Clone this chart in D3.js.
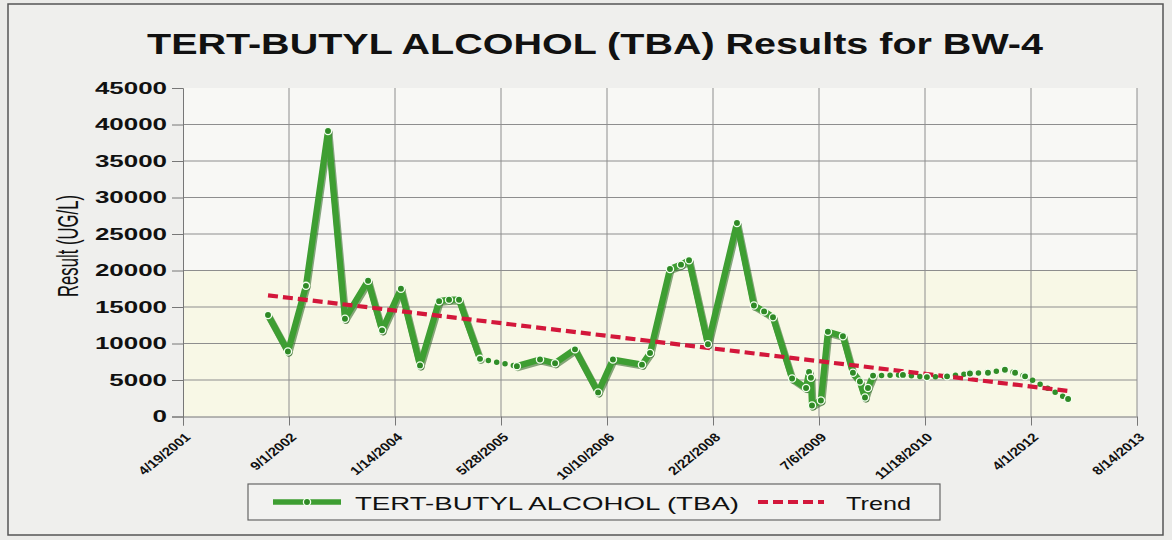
<!DOCTYPE html>
<html>
<head>
<meta charset="utf-8">
<script src="https://cdn.jsdelivr.net/npm/d3@7"></script>
<style>
  body { margin: 0; background: #ebebe9; }
  svg { display: block; font-family: "Liberation Sans", Arial, sans-serif; }
</style>
</head>
<body>
<div id="chart"></div>
<script>
// sample dates and TBA results (ug/L)
const sampleDates = [
  '2002-05-25', '2002-08-27', '2002-11-20', '2003-03-04', '2003-05-23', '2003-09-09',
  '2003-11-14', '2004-02-11', '2004-05-11', '2004-08-09', '2004-09-25', '2004-11-11',
  '2005-02-18', '2005-08-11', '2005-11-28', '2006-02-07', '2006-05-12', '2006-08-29',
  '2006-11-07', '2007-03-24', '2007-05-01', '2007-08-03', '2007-09-24', '2007-11-01',
  '2008-01-29', '2008-06-14', '2008-09-02', '2008-10-20', '2008-12-01', '2009-03-01',
  '2009-05-06', '2009-05-20', '2009-05-29', '2009-06-03', '2009-07-15', '2009-08-17',
  '2009-10-27', '2009-12-13', '2010-01-15', '2010-02-08', '2010-02-22', '2010-03-18',
  '2010-08-06', '2010-11-27', '2011-03-02', '2011-06-18', '2011-09-11', '2011-11-30',
  '2012-01-17', '2012-03-04', '2012-09-23',
];
const tbaValues = [
  13900, 8900, 17900, 39100, 13400, 18600,
  11800, 17500, 7000, 15800, 16000, 16000,
  7900, 6900, 7800, 7300, 9200, 3300,
  7800, 7100, 8700, 20200, 20800, 21400,
  9900, 26500, 15200, 14400, 13600, 5200,
  3900, 6100, 5300, 1500, 2200, 11600,
  11000, 6000, 4800, 2600, 3900, 5600,
  5700, 5400, 5500, 5900, 6000, 6400,
  6000, 5500, 2400,
];
// linear trend, end points as drawn
const trendDates = ['2002-05-25', '2012-09-23'];
const trendValues = [16600, 3500];

const xTickLabels = ['4/19/2001', '9/1/2002', '1/14/2004', '5/28/2005', '10/10/2006',
  '2/22/2008', '7/6/2009', '11/18/2010', '4/1/2012', '8/14/2013'];
const yTickValues = [0, 5000, 10000, 15000, 20000, 25000, 30000, 35000, 40000, 45000];

// segments (start index) that show up as dotted in the scan
const dottedSegments = [12, 41, 42, 43, 44, 45, 46, 47, 48, 49];

const width = 1172;
const height = 540;
const margin = { top: 88, right: 35, bottom: 123.5, left: 183 };

const green = '#3e9e32';
const red = '#d3173b';
const grid = '#8e8e8e';

const parseIso = d3.utcParse('%Y-%m-%d');
const parseTick = d3.utcParse('%m/%d/%Y');

const points = sampleDates.map((d, i) => ({ date: parseIso(d), value: tbaValues[i] }));
const trend = trendDates.map((d, i) => ({ date: parseIso(d), value: trendValues[i] }));
const xTicks = xTickLabels.map(parseTick);

const x = d3.scaleUtc()
  .domain([xTicks[0], xTicks[xTicks.length - 1]])
  .range([margin.left, width - margin.right]);
const y = d3.scaleLinear()
  .domain([0, 45000])
  .range([height - margin.bottom, margin.top]);

const svg = d3.select('#chart').append('svg').attr('width', width).attr('height', height);

// stretch text horizontally like the scan does
function stretch(sel, k) {
  sel.each(function () {
    const len = this.getComputedTextLength();
    d3.select(this).attr('textLength', len * k).attr('lengthAdjust', 'spacingAndGlyphs');
  });
}

// page + chart frame
svg.append('rect').attr('x', 8).attr('y', 4).attr('width', 1155).attr('height', 531)
  .attr('fill', '#efefed').attr('stroke', '#555').attr('stroke-width', 1.5);

// plot background
svg.append('rect')
  .attr('x', x.range()[0]).attr('y', y(45000))
  .attr('width', x.range()[1] - x.range()[0]).attr('height', y(0) - y(45000))
  .attr('fill', '#f8f8f5');
svg.append('rect')
  .attr('x', x.range()[0]).attr('y', y(20000))
  .attr('width', x.range()[1] - x.range()[0]).attr('height', y(0) - y(20000))
  .attr('fill', '#f8f8e6');

// title
svg.append('text')
  .attr('x', 595).attr('y', 54)
  .attr('text-anchor', 'middle')
  .attr('font-size', 30).attr('font-weight', 'bold').attr('fill', '#111')
  .text('TERT-BUTYL ALCOHOL (TBA) Results for BW-4')
  .attr('textLength', 896).attr('lengthAdjust', 'spacingAndGlyphs');

// gridlines
svg.append('g')
  .selectAll('line')
  .data(yTickValues.filter((v) => v > 0 && v < 45000))
  .join('line')
  .attr('x1', x.range()[0]).attr('x2', x.range()[1])
  .attr('y1', (d) => y(d)).attr('y2', (d) => y(d))
  .attr('stroke', grid).attr('stroke-width', 1);
svg.append('g')
  .selectAll('line')
  .data(xTicks.slice(1))
  .join('line')
  .attr('x1', (d) => x(d)).attr('x2', (d) => x(d))
  .attr('y1', y(45000)).attr('y2', y(0))
  .attr('stroke', grid).attr('stroke-width', 1);

// y axis
const yAxis = svg.append('g')
  .attr('transform', `translate(${margin.left},0)`)
  .call(d3.axisLeft(y).tickValues(yTickValues).tickFormat(d3.format('d')).tickSize(11).tickPadding(5));
yAxis.select('.domain').attr('stroke', '#777');
yAxis.selectAll('.tick line').attr('stroke', '#777');
yAxis.selectAll('.tick text')
  .attr('font-size', 16).attr('font-weight', 'bold').attr('fill', '#111')
  .attr('font-family', '"Liberation Sans", Arial, sans-serif')
  .call(stretch, 1.62);

// x axis
const xAxis = svg.append('g')
  .attr('transform', `translate(0,${y(0)})`)
  .call(d3.axisBottom(x).tickValues(xTicks).tickFormat((d, i) => xTickLabels[i]).tickSize(9));
xAxis.select('.domain').attr('stroke', '#777');
xAxis.selectAll('.tick line').attr('stroke', '#777');
xAxis.selectAll('.tick text')
  .attr('x', null).attr('y', null).attr('dy', null)
  .attr('text-anchor', 'end')
  .attr('font-size', 12).attr('font-weight', 'bold').attr('fill', '#111')
  .attr('font-family', '"Liberation Sans", Arial, sans-serif')
  .attr('transform', 'translate(8,21.5) scale(1.25,1) rotate(-45)');

// y axis title
svg.append('text')
  .attr('transform', 'translate(78,246) scale(1.7,1) rotate(-90)')
  .attr('text-anchor', 'middle')
  .attr('font-size', 17).attr('fill', '#111')
  .text('Result (UG/L)')
  .attr('textLength', 102).attr('lengthAdjust', 'spacingAndGlyphs');

// data line
const line = d3.line().x((d) => x(d.date)).y((d) => y(d.value));
const segments = d3.pairs(points).map((p, i) => ({ pts: p, dotted: dottedSegments.includes(i) }));

svg.append('g')
  .attr('transform', 'translate(1,1.5)')
  .selectAll('path')
  .data(segments.filter((s) => !s.dotted))
  .join('path')
  .attr('d', (s) => line(s.pts))
  .attr('fill', 'none').attr('stroke', '#25601c').attr('stroke-opacity', 0.55)
  .attr('stroke-width', 7).attr('stroke-linecap', 'round');

svg.append('g')
  .selectAll('path')
  .data(segments)
  .join('path')
  .attr('d', (s) => line(s.pts))
  .attr('fill', 'none')
  .attr('stroke', (s) => (s.dotted ? '#2f8f28' : green))
  .attr('stroke-width', (s) => (s.dotted ? 5.5 : 6.3))
  .attr('stroke-dasharray', (s) => (s.dotted ? '0 8.5' : null))
  .attr('stroke-linecap', 'round');

// trend
svg.append('path')
  .datum(trend)
  .attr('d', line)
  .attr('fill', 'none').attr('stroke', red).attr('stroke-width', 4.2)
  .attr('stroke-dasharray', '10 5');

// markers
svg.append('g')
  .selectAll('circle')
  .data(points)
  .join('circle')
  .attr('cx', (d) => x(d.date)).attr('cy', (d) => y(d.value))
  .attr('r', 3.6)
  .attr('fill', '#2f8a26').attr('stroke', '#f4fff0').attr('stroke-width', 1.3);

// legend
const legend = svg.append('g');
legend.append('rect').attr('x', 248).attr('y', 484).attr('width', 692).attr('height', 36)
  .attr('fill', '#f2f2f0').attr('stroke', '#666').attr('stroke-width', 1.2);
legend.append('line').attr('x1', 273).attr('x2', 341).attr('y1', 502).attr('y2', 502)
  .attr('stroke', green).attr('stroke-width', 5.5);
legend.append('circle').attr('cx', 307).attr('cy', 502).attr('r', 3.6)
  .attr('fill', '#2f8a26').attr('stroke', '#f4fff0').attr('stroke-width', 1.3);
legend.append('text').attr('x', 355).attr('y', 510)
  .attr('font-size', 19).attr('fill', '#111')
  .text('TERT-BUTYL ALCOHOL (TBA)')
  .attr('textLength', 384).attr('lengthAdjust', 'spacingAndGlyphs');
legend.append('line').attr('x1', 758).attr('x2', 824).attr('y1', 502).attr('y2', 502)
  .attr('stroke', red).attr('stroke-width', 4.2).attr('stroke-dasharray', '10 5');
legend.append('text').attr('x', 846).attr('y', 510)
  .attr('font-size', 19).attr('fill', '#111')
  .text('Trend')
  .attr('textLength', 65).attr('lengthAdjust', 'spacingAndGlyphs');
</script>
</body>
</html>
